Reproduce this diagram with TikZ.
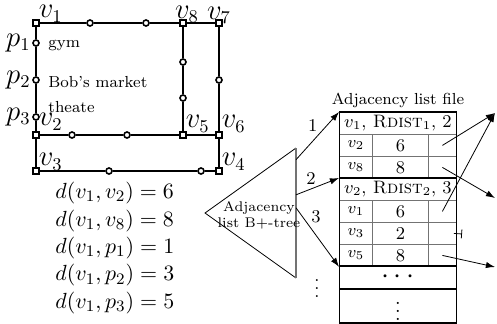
\documentclass[tikz,border=0pt]{standalone}
\usepackage{fontspec}
\usetikzlibrary{positioning, arrows.meta, calc}
\tikzset{
  vtx/.style={draw, thick, rectangle, inner sep=0pt, minimum size=3.2pt, fill=white},
  pnt/.style={draw, thick, circle, inner sep=0pt, minimum size=3pt, fill=white},
  road/.style={line width=1pt},
  vlab/.style={font=\fontsize{13.5}{15}\selectfont, inner sep=0.6pt},
  arr/.style={-{Latex[length=1.6mm,width=1.1mm]}, thin},
  cell/.style={draw=black!55, anchor=north west, inner sep=0pt, minimum height=11pt},
  sep/.style={line width=1pt}
}
\begin{document}
\begin{tikzpicture}[x=0.5pt, y=-0.5pt, font=\footnotesize, label distance=-2pt]
\useasboundingbox (0,0) rectangle (497,323);
% road network
\node[vtx, label={[vlab, yshift=-1pt]above right:$v_1$}] (v1) at (36,23) {};
\node[vtx, label={[vlab, xshift=2pt, yshift=-0.5pt]above:$v_8$}] (v8) at (183,23) {};
\node[vtx, label={[vlab, yshift=-1pt]above:$v_7$}] (v7) at (219,23) {};
\node[vtx, label={[vlab, yshift=1pt]above right:$v_2$}] (v2) at (36,135) {};
\node[vtx, label={[vlab]above right:$v_5$}] (v5) at (183,135) {};
\node[vtx, label={[vlab]above right:$v_6$}] (v6) at (219,135) {};
\node[vtx, label={[vlab, yshift=-1pt]above right:$v_3$}] (v3) at (36,171) {};
\node[vtx, label={[vlab, yshift=-1pt]above right:$v_4$}] (v4) at (219,171) {};
\node[pnt, label={[vlab, label distance=0pt]left:$p_1$}] (p1) at (36,43) {};
\node[pnt, label={[vlab, label distance=0pt]left:$p_2$}] (p2) at (36,80) {};
\node[pnt, label={[vlab, label distance=0pt]left:$p_3$}] (p3) at (36,117) {};
\node[pnt] (m1) at (90,23) {};
\node[pnt] (m2) at (146,23) {};
\node[pnt] (m3) at (183,62) {};
\node[pnt] (m4) at (183,98) {};
\node[pnt] (m5) at (219,80) {};
\node[pnt] (m6) at (72,135) {};
\node[pnt] (m7) at (127,135) {};
\node[pnt] (m8) at (109,171) {};
\node[pnt] (m9) at (201,171) {};
\draw[road] (v1) -- (m1) -- (m2) -- (v8) -- (v7);
\draw[road] (v1) -- (p1) -- (p2) -- (p3) -- (v2) -- (v3);
\draw[road] (v8) -- (m3) -- (m4) -- (v5);
\draw[road] (v7) -- (m5) -- (v6) -- (v4);
\draw[road] (v2) -- (m6) -- (m7) -- (v5) -- (v6);
\draw[road] (v3) -- (m8) -- (m9) -- (v4);
\node[anchor=base west, inner sep=0pt] (gym) at (48,47) {gym};
\node[anchor=base west, inner sep=0pt] (market) at (48,87) {Bob's market};
\node[anchor=base west, inner sep=0pt] (theate) at (48,112) {theate};
\node[anchor=west, align=left, inner sep=0pt, font=\fontsize{11}{13.7}\selectfont]
  (dist) at (55,248)
  {$d(v_1,v_2)=6$\\ $d(v_1,v_8)=8$\\ $d(v_1,p_1)=1$\\ $d(v_1,p_2)=3$\\ $d(v_1,p_3)=5$};
% B+-tree
\coordinate (tip) at (205,213);
\coordinate (ttop) at (296,148);
\coordinate (tbot) at (296,278);
\draw (ttop) -- (tip) -- (tbot);
\draw[black!55, semithick] (ttop) -- (tbot);
\node[font=\scriptsize, align=center, inner sep=0pt] (tree) at (259,215)
  {Adjacency\\list B+-tree};
\coordinate (e1) at ($(ttop)!0.09!(tbot)$);
\coordinate (e2) at ($(ttop)!0.36!(tbot)$);
\coordinate (e3) at ($(ttop)!0.46!(tbot)$);
\node[font=\small] (tdots) at (317,283) {$\vdots$};
% adjacency list file
\node (title) at (398,100) {Adjacency list file};
\node[cell, minimum width=58.5pt, font=\small] (h1) at (339,112)
  {$v_1$, \textsc{Rdist}$_1$, 2};
\node[cell, minimum width=16.5pt] (a1) at (339,134) {$v_2$};
\node[cell, minimum width=28pt, font=\small] (b1) at (372,134) {6};
\node[cell, minimum width=14pt] (q1) at (428,134) {};
\node[cell, minimum width=16.5pt] (a2) at (339,156) {$v_8$};
\node[cell, minimum width=28pt, font=\small] (b2) at (372,156) {8};
\node[cell, minimum width=14pt] (q2) at (428,156) {};
\node[cell, minimum width=58.5pt, font=\small] (h2) at (339,178)
  {$v_2$, \textsc{Rdist}$_2$, 3};
\node[cell, minimum width=16.5pt] (a3) at (339,200) {$v_1$};
\node[cell, minimum width=28pt, font=\small] (b3) at (372,200) {6};
\node[cell, minimum width=14pt] (q3) at (428,200) {};
\node[cell, minimum width=16.5pt] (a4) at (339,222) {$v_3$};
\node[cell, minimum width=28pt, font=\small] (b4) at (372,222) {2};
\node[cell, minimum width=14pt] (q4) at (428,222) {};
\node[cell, minimum width=16.5pt] (a5) at (339,244) {$v_5$};
\node[cell, minimum width=28pt, font=\small] (b5) at (372,244) {8};
\node[cell, minimum width=14pt] (q5) at (428,244) {};
\node[cell, minimum width=58.5pt, font=\Large] (more) at (339,266) {$\cdots$};
\node[cell, minimum width=58.5pt, minimum height=17pt, font=\normalsize] (last) at (339,288) {$\vdots$};
\draw (h1.north west) -- (last.south west);
\draw (h1.north east) -- (last.south east);
\draw[sep] (h1.north west) -- (h1.north east);
\draw[sep] (h2.north west) -- (h2.north east);
\draw[sep] (more.north west) -- (more.north east);
\draw[sep] (more.south west) -- (more.south east);
\draw[sep] (last.south west) -- (last.south east);
% pointers
\draw[arr] (e1) -- (h1.north west) node[pos=0.55, above left, inner sep=1pt, font=\small] {1};
\draw[arr] (e2) -- (h2.north west) node[pos=0.35, above, inner sep=2pt, font=\small] {2};
\draw[arr] (e3) -- (a5.south west) node[pos=0.3, above right, inner sep=1pt, font=\small] {3};
\coordinate (o1) at (495,113);
\coordinate (o2) at (495,198);
\coordinate (o3) at (495,267);
\coordinate (nil) at (462,234);
\draw[arr] (q1.center) -- (o1);
\draw[arr] (q2.center) -- (o2);
\draw[arr] (q3.center) -- (o1);
\draw[-{Bar[width=4.5pt]}, thin] ($(q4.east)+(-1.5pt,0)$) -- (nil);
\draw[arr] (q5.center) -- (o3);
\end{tikzpicture}
\end{document}
